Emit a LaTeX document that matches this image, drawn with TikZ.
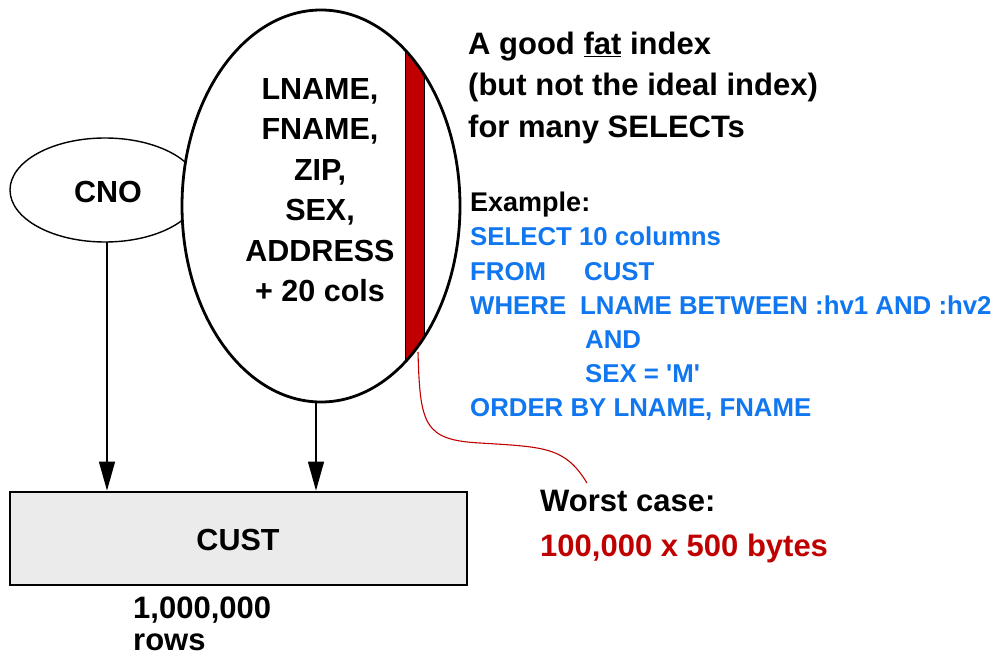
\documentclass[tikz,border=0pt]{standalone}
\usepackage{fontspec}
\setmainfont{Liberation Sans}
\usetikzlibrary{arrows.meta,shapes.geometric}
\definecolor{sqlblue}{RGB}{16,119,240}
\definecolor{hotred}{RGB}{192,0,0}
\definecolor{tablegray}{RGB}{235,235,235}
\begin{document}
\begin{tikzpicture}[x=1pt,y=-1pt,
  lbl/.style={inner sep=0pt,font=\bfseries\fontsize{30.5}{40.5}\selectfont},
  sql/.style={inner sep=0pt,anchor=base west,text=sqlblue,font=\bfseries\fontsize{25.8}{34}\selectfont},
  note/.style={inner sep=0pt,anchor=base west,font=\bfseries\fontsize{31}{41}\selectfont},
  flow/.style={line width=1.3pt,-{Triangle[length=29pt,width=16pt]}}]
\useasboundingbox (0,0) rectangle (996,655);

% index on CNO
\node[draw,line width=1.4pt,ellipse,minimum width=190pt,minimum height=104pt,inner sep=0pt,fill=white] (cno) at (105,190) {};
\node[lbl] (cnotext) at (108,192) {CNO};

% fat index ellipse with its used slice
\path[fill=white] (321,206) ellipse [x radius=139, y radius=196];
\begin{scope}
  \clip (321,206) ellipse [x radius=139, y radius=196];
  \fill[hotred] (405,0) rectangle (424,420);
  \draw[line width=0.8pt] (405,0) -- (405,420) (424,0) -- (424,420);
\end{scope}
\node[draw,line width=2.8pt,ellipse,minimum width=278pt,minimum height=392pt,inner sep=0pt] (idx) at (321,206) {};
\node[lbl,align=center] (cols) at (320,190) {LNAME,\\FNAME,\\ZIP,\\SEX,\\ADDRESS\\+ 20 cols};

% table
\node[draw,line width=2.8pt,fill=tablegray,minimum width=457pt,minimum height=93pt,inner sep=0pt] (cust) at (238.5,538.5) {};
\node[lbl] (custtext) at (238,540) {CUST};
\node[note] (rows1) at (133,618) {1,000,000};
\node[note] (rows2) at (133,650) {rows};

% index to table arrows
\coordinate (cnofoot) at (107,242);
\coordinate (idxfoot) at (316,403);
\draw[flow] (cnofoot) -- (cnofoot |- cust.north);
\draw[flow] (idxfoot) -- (idxfoot |- cust.north);

% description
\node[note] (t1) at (468,55) {A good \underline{fat} index};
\node[note] (t2) at (468,96) {(but not the ideal index)};
\node[note] (t3) at (468,138) {for many SELECTs};

\node[note,font=\bfseries\fontsize{27}{34}\selectfont] (ex) at (470,212) {Example:};
\node[sql] (q1) at (470,246) {SELECT 10 columns};
\node[sql] (q2) at (470,280) {FROM};
\node[sql] (q2b) at (584,280) {CUST};
\node[sql] (q3) at (470,314) {WHERE};
\node[sql] (q3b) at (580,314) {LNAME BETWEEN :hv1 AND :hv2};
\node[sql] (q4) at (585,348) {AND};
\node[sql] (q5) at (585,382) {SEX = \textquotesingle M\textquotesingle};
\node[sql] (q6) at (470,416) {ORDER BY LNAME, FNAME};

% worst case callout
\node[note] (w1) at (540,511) {Worst case:};
\node[note,text=hotred] (w2) at (540,556) {100,000 x 500 bytes};
\coordinate (slice) at (418,352);
\coordinate (callout) at (587,483);
\draw[hotred,line width=1.1pt] (slice) .. controls (420,425) and (424,440) .. (480,443)
  .. controls (545,447) and (565,447) .. (callout);
\end{tikzpicture}
\end{document}
